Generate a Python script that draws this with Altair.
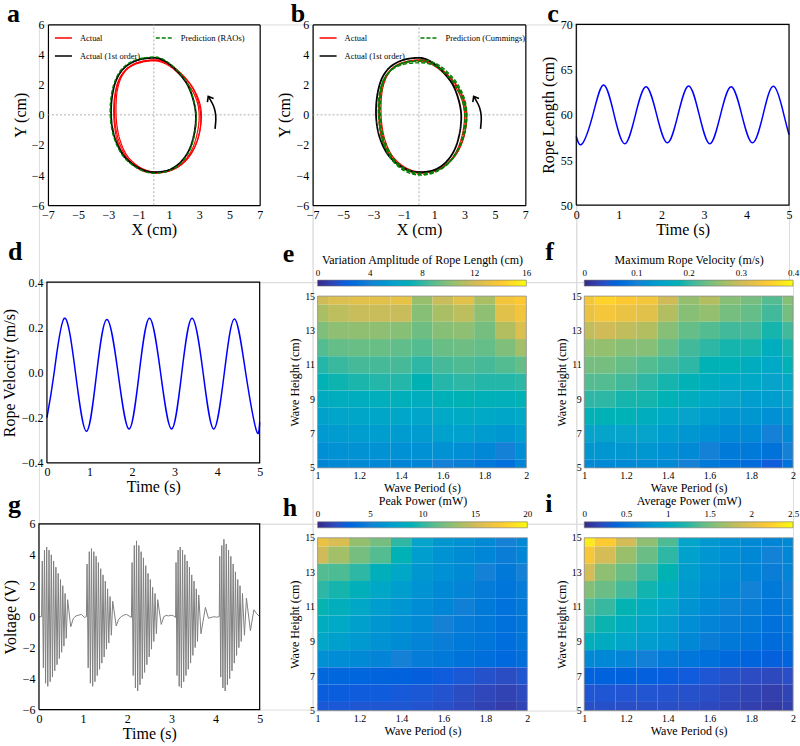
import altair as alt
import pandas as pd

FONT = "Liberation Serif"
PARULA = ["#352a87", "#0f5cdd", "#1481d6", "#06a4ca", "#2eb7a4",
          "#87bf77", "#d1bb59", "#fec832", "#f9fb0e"]

# ---------------- panels a / b : orbit loops (cm) ----------------
black_x = [0.0, -0.7, -1.35, -1.95, -2.4, -2.68, -2.82, -2.78, -2.52, -2.0, -1.25, -0.45,
           0.3, 1.1, 1.8, 2.35, 2.68, 2.78, 2.62, 2.25, 1.7, 1.05, 0.45]
black_y = [3.78, 3.72, 3.52, 3.12, 2.5, 1.65, 0.55, -0.6, -1.7, -2.7, -3.38, -3.75,
           -3.8, -3.62, -3.12, -2.3, -1.2, -0.05, 0.95, 1.95, 2.72, 3.35, 3.7]

red1_x = [0.0, -0.7, -1.3, -1.85, -2.25, -2.5, -2.6, -2.55, -2.3, -1.82, -1.1, -0.3,
          0.5, 1.35, 2.05, 2.62, 3.0, 3.15, 3.0, 2.55, 1.9, 1.2, 0.55]
red1_y = [3.62, 3.56, 3.38, 3.0, 2.4, 1.55, 0.5, -0.65, -1.78, -2.78, -3.45, -3.8,
          -3.82, -3.6, -3.1, -2.3, -1.25, -0.1, 0.9, 1.85, 2.62, 3.22, 3.55]
red2_x = [-0.05, -0.75, -1.35, -1.9, -2.3, -2.55, -2.65, -2.6, -2.38, -1.9, -1.18, -0.38,
          0.42, 1.25, 1.95, 2.5, 2.86, 3.0, 2.86, 2.42, 1.8, 1.12, 0.5]
red2_y = [3.58, 3.5, 3.3, 2.92, 2.35, 1.5, 0.45, -0.7, -1.82, -2.8, -3.48, -3.82,
          -3.85, -3.64, -3.15, -2.35, -1.28, -0.12, 0.88, 1.82, 2.58, 3.18, 3.5]
red3_x = [0.05, -0.62, -1.22, -1.78, -2.18, -2.42, -2.5, -2.45, -2.22, -1.76, -1.05, -0.25,
          0.55, 1.4, 2.1, 2.66, 3.02, 3.1, 2.92, 2.5, 1.88, 1.2, 0.6]
red3_y = [3.65, 3.58, 3.4, 3.02, 2.42, 1.58, 0.52, -0.6, -1.72, -2.72, -3.4, -3.75,
          -3.78, -3.55, -3.05, -2.25, -1.2, -0.05, 0.95, 1.9, 2.66, 3.26, 3.58]

rao_x = [0.0, -0.72, -1.4, -2.0, -2.45, -2.74, -2.88, -2.83, -2.56, -2.02, -1.25, -0.42,
         0.35, 1.15, 1.86, 2.4, 2.72, 2.8, 2.64, 2.28, 1.72, 1.06, 0.45]
rao_y = [3.84, 3.77, 3.57, 3.16, 2.53, 1.66, 0.55, -0.62, -1.74, -2.76, -3.44, -3.82,
         -3.86, -3.66, -3.14, -2.3, -1.2, -0.05, 0.97, 1.98, 2.76, 3.4, 3.76]

cum1_x = [0.0, -0.7, -1.3, -1.85, -2.3, -2.55, -2.62, -2.55, -2.3, -1.8, -1.1, -0.3,
          0.5, 1.3, 2.0, 2.55, 2.95, 3.1, 2.95, 2.55, 1.95, 1.25, 0.55]
cum1_y = [3.55, 3.5, 3.35, 2.98, 2.38, 1.52, 0.48, -0.68, -1.82, -2.85, -3.55, -3.9,
          -3.92, -3.68, -3.15, -2.35, -1.3, -0.15, 0.9, 1.88, 2.65, 3.22, 3.5]
cum2_x = [-0.1, -0.8, -1.4, -1.95, -2.35, -2.6, -2.68, -2.6, -2.35, -1.85, -1.15, -0.35,
          0.45, 1.25, 1.95, 2.5, 2.88, 3.02, 2.88, 2.48, 1.88, 1.2, 0.5]
cum2_y = [3.45, 3.4, 3.22, 2.85, 2.28, 1.45, 0.42, -0.72, -1.85, -2.9, -3.6, -3.95,
          -3.98, -3.72, -3.2, -2.4, -1.35, -0.2, 0.85, 1.82, 2.58, 3.15, 3.42]
cum3_x = [0.05, -0.6, -1.2, -1.75, -2.2, -2.45, -2.55, -2.5, -2.25, -1.75, -1.05, -0.25,
          0.55, 1.35, 2.05, 2.6, 3.0, 3.15, 3.02, 2.6, 2.0, 1.3, 0.6]
cum3_y = [3.62, 3.56, 3.4, 3.05, 2.45, 1.6, 0.55, -0.62, -1.75, -2.78, -3.48, -3.82,
          -3.85, -3.62, -3.08, -2.28, -1.22, -0.08, 0.98, 1.95, 2.72, 3.3, 3.6]

arrow_x = [4.05, 4.1, 4.06, 3.92, 3.6]
arrow_y = [-0.93, -0.3, 0.2, 0.65, 1.22]

orbit_xticks = [-7, -5, -3, -1, 1, 3, 5, 7]
orbit_yticks = [-6, -4, -2, 0, 2, 4, 6]

# ---------------- panel c : rope length ----------------
len_t = [0.0, 0.14, 0.39, 0.64, 0.89, 1.14, 1.39, 1.64, 1.89, 2.14, 2.39, 2.64, 2.89,
         3.14, 3.39, 3.64, 3.89, 4.14, 4.39, 4.64, 4.88, 5.0]
len_v = [57.6, 56.8, 60.0, 63.3, 60.0, 56.8, 60.0, 63.1, 60.0, 56.9, 60.0, 63.2, 60.0,
         56.8, 60.0, 63.1, 60.0, 56.9, 60.0, 63.15, 60.0, 57.8]
time_ticks = [0, 1, 2, 3, 4, 5]
length_ticks = [50, 55, 60, 65, 70]

# ---------------- panel d : rope velocity ----------------
vel_t = [0.0, 0.17, 0.41, 0.67, 0.93, 1.17, 1.41, 1.67, 1.93, 2.17, 2.41, 2.67, 2.93,
         3.17, 3.41, 3.67, 3.92, 4.17, 4.41, 4.67, 4.92, 5.0]
vel_v = [-0.2, 0.0, 0.24, 0.0, -0.26, 0.0, 0.235, 0.0, -0.25, 0.0, 0.24, 0.0, -0.25,
         0.0, 0.24, 0.0, -0.25, 0.0, 0.237, 0.0, -0.255, -0.22]
velocity_ticks = [-0.4, -0.2, 0.0, 0.2, 0.4]

# ---------------- panel g : voltage ----------------
volt_t = [0.0, 0.06,
          0.075, 0.1, 0.125, 0.15, 0.175, 0.2, 0.228, 0.254, 0.28, 0.306, 0.332, 0.358,
          0.384, 0.41, 0.436, 0.462, 0.488, 0.514, 0.54, 0.566, 0.592, 0.618, 0.65, 0.72,
          0.78, 0.84, 0.9, 0.96, 1.03, 1.075,
          1.09, 1.115, 1.14, 1.165, 1.19, 1.217, 1.243, 1.269, 1.295, 1.321, 1.347, 1.373,
          1.399, 1.425, 1.451, 1.477, 1.503, 1.529, 1.555, 1.582, 1.61, 1.64, 1.67, 1.75,
          1.8, 1.86, 1.92, 1.98, 2.04, 2.095,
          2.11, 2.135, 2.16, 2.185, 2.21, 2.237, 2.263, 2.289, 2.315, 2.341, 2.367, 2.393,
          2.419, 2.445, 2.471, 2.497, 2.523, 2.549, 2.575, 2.602, 2.63, 2.66, 2.69, 2.77,
          2.83, 2.88, 2.94, 2.99, 3.05, 3.095,
          3.105, 3.128, 3.152, 3.177, 3.2, 3.227, 3.253, 3.279, 3.305, 3.331, 3.357, 3.383,
          3.409, 3.435, 3.461, 3.487, 3.513, 3.539, 3.565, 3.591, 3.62, 3.67, 3.77,
          3.84, 3.9, 3.96, 4.02, 4.085,
          4.095, 4.118, 4.142, 4.167, 4.19, 4.217, 4.243, 4.269, 4.295, 4.321, 4.347, 4.373,
          4.399, 4.425, 4.451, 4.477, 4.503, 4.529, 4.555, 4.582, 4.61, 4.655, 4.7, 4.79,
          4.87, 4.93, 5.0]
volt_v = [0.0, 0.0,
          3.6, -3.3, 4.3, -4.3, 4.5, -4.5, 4.3, -4.2, 4.0, -3.9, 3.6, -3.5,
          3.2, -3.1, 2.8, -2.7, 2.4, -2.3, 2.0, -1.9, 1.5, -1.4, 1.1, -0.65,
          -0.1, 0.05, 0.1, 0.15, -0.05, 0.0,
          3.4, -3.3, 4.2, -4.3, 4.4, -4.5, 4.2, -4.2, 3.9, -3.8, 3.5, -3.4,
          3.1, -3.0, 2.7, -2.6, 2.3, -2.1, 1.8, -1.7, 1.3, -1.2, 1.0, -0.6,
          -0.2, 0.0, 0.1, 0.15, 0.05, -0.05,
          3.5, -3.8, 4.6, -4.6, 4.9, -4.8, 4.6, -4.4, 4.2, -4.0, 3.8, -3.6,
          3.3, -3.1, 2.8, -2.6, 2.4, -2.1, 1.9, -1.6, 1.5, -1.1, 1.1, -0.5,
          0.0, 0.08, 0.05, 0.1, 0.05, -0.05,
          3.5, -3.8, 4.3, -4.5, 4.5, -4.6, 4.3, -4.2, 4.0, -3.8, 3.6, -3.4,
          3.2, -3.0, 2.7, -2.5, 2.3, -2.0, 1.8, -1.6, 1.4, -1.1, 0.6,
          -0.1, -0.05, 0.0, -0.03, 0.0,
          3.9, -3.9, 4.6, -4.6, 5.0, -4.8, 4.7, -4.4, 4.3, -4.0, 3.9, -3.5,
          3.4, -3.0, 2.9, -2.5, 2.4, -2.0, 2.0, -1.6, 1.5, -1.2, 1.2, -0.9,
          0.45, 0.2, 0.0]
voltage_ticks = [-6, -4, -2, 0, 2, 4, 6]

# ---------------- heat maps e, f, h, i ----------------
period = [1.0, 1.1, 1.2, 1.3, 1.4, 1.5, 1.6, 1.7, 1.8, 1.9, 2.0]
wave_height = [15, 14, 13, 12, 11, 10, 9, 8, 7, 6, 5]
period_ticks = [1, 1.2, 1.4, 1.6, 1.8, 2]
height_ticks = [5, 7, 9, 11, 13, 15]

amp_cm = [
    [12.0, 12.5, 12.8, 12.8, 13.0, 10.5, 11.8, 12.8, 11.0, 13.5, 14.0],
    [11.0, 11.5, 11.8, 11.8, 11.8, 10.0, 11.0, 11.5, 10.2, 12.8, 13.5],
    [9.8, 10.2, 10.3, 10.2, 10.0, 9.4, 10.0, 10.2, 9.6, 11.2, 12.5],
    [8.8, 9.2, 9.3, 9.3, 9.1, 8.8, 9.3, 9.4, 9.2, 9.8, 10.8],
    [7.8, 8.2, 8.5, 8.5, 8.5, 8.0, 8.5, 8.7, 8.5, 8.8, 9.2],
    [7.2, 7.5, 7.7, 7.8, 7.8, 7.3, 7.8, 8.0, 7.8, 7.8, 8.0],
    [6.6, 6.8, 6.8, 6.9, 7.0, 6.8, 7.1, 7.3, 7.1, 7.0, 7.2],
    [5.9, 6.1, 6.2, 6.2, 6.2, 6.1, 6.4, 6.5, 6.4, 6.2, 6.4],
    [5.3, 5.5, 5.6, 5.6, 5.5, 5.5, 5.8, 5.8, 5.5, 5.2, 5.6],
    [4.7, 4.9, 4.9, 4.9, 4.8, 4.8, 4.9, 4.7, 4.3, 4.0, 4.7],
    [4.2, 4.4, 4.4, 4.3, 4.2, 4.2, 4.0, 3.8, 3.4, 3.0, 4.2],
]
vmax_ms = [
    [0.34, 0.36, 0.35, 0.34, 0.30, 0.26, 0.28, 0.25, 0.24, 0.22, 0.25],
    [0.33, 0.34, 0.33, 0.32, 0.28, 0.25, 0.26, 0.24, 0.23, 0.21, 0.24],
    [0.29, 0.30, 0.29, 0.28, 0.25, 0.23, 0.22, 0.21, 0.21, 0.19, 0.21],
    [0.26, 0.26, 0.25, 0.25, 0.23, 0.21, 0.20, 0.19, 0.19, 0.17, 0.19],
    [0.24, 0.24, 0.23, 0.22, 0.21, 0.20, 0.18, 0.18, 0.17, 0.16, 0.18],
    [0.22, 0.22, 0.21, 0.20, 0.19, 0.18, 0.17, 0.16, 0.16, 0.15, 0.16],
    [0.20, 0.20, 0.19, 0.19, 0.18, 0.17, 0.16, 0.15, 0.14, 0.14, 0.15],
    [0.18, 0.18, 0.18, 0.17, 0.16, 0.15, 0.14, 0.13, 0.13, 0.12, 0.13],
    [0.15, 0.15, 0.15, 0.15, 0.14, 0.13, 0.12, 0.11, 0.11, 0.10, 0.11],
    [0.13, 0.13, 0.13, 0.13, 0.12, 0.11, 0.10, 0.09, 0.09, 0.08, 0.10],
    [0.11, 0.11, 0.11, 0.11, 0.11, 0.10, 0.09, 0.08, 0.07, 0.05, 0.08],
]
peak_mw = [
    [16.5, 15.5, 13.0, 12.0, 10.0, 7.5, 6.5, 6.0, 5.5, 5.0, 5.5],
    [15.0, 13.5, 12.0, 11.0, 9.0, 7.0, 6.2, 5.7, 5.3, 4.8, 5.3],
    [11.0, 10.8, 10.0, 8.8, 7.8, 6.5, 6.0, 5.5, 5.0, 4.4, 5.0],
    [10.0, 9.5, 8.8, 7.8, 7.0, 6.2, 5.6, 5.2, 4.7, 4.1, 4.7],
    [9.3, 8.6, 7.8, 7.0, 6.4, 5.8, 5.3, 4.9, 4.5, 3.9, 4.5],
    [8.5, 8.0, 7.2, 6.5, 6.0, 5.5, 5.0, 4.7, 4.3, 3.8, 4.3],
    [7.8, 7.2, 6.6, 6.1, 5.7, 5.2, 4.8, 4.5, 4.1, 3.6, 4.1],
    [6.0, 5.8, 5.5, 5.2, 5.0, 4.7, 4.4, 4.0, 3.7, 3.3, 3.7],
    [3.2, 3.2, 3.1, 3.0, 2.9, 2.7, 2.5, 2.3, 2.0, 1.8, 2.2],
    [2.6, 2.6, 2.5, 2.5, 2.4, 2.3, 2.1, 1.8, 1.5, 1.3, 1.7],
    [2.3, 2.3, 2.2, 2.2, 2.2, 2.1, 1.9, 1.6, 1.3, 1.0, 1.4],
]
avg_mw = [
    [2.4, 2.2, 1.9, 1.6, 1.35, 0.95, 0.82, 0.76, 0.7, 0.66, 0.7],
    [2.15, 1.9, 1.65, 1.45, 1.25, 0.92, 0.8, 0.74, 0.68, 0.63, 0.68],
    [1.9, 1.6, 1.45, 1.3, 1.15, 0.88, 0.77, 0.71, 0.66, 0.6, 0.65],
    [1.55, 1.45, 1.32, 1.18, 1.05, 0.83, 0.74, 0.68, 0.63, 0.56, 0.61],
    [1.35, 1.28, 1.16, 1.05, 0.95, 0.78, 0.7, 0.64, 0.59, 0.52, 0.57],
    [1.25, 1.17, 1.06, 0.96, 0.87, 0.73, 0.65, 0.59, 0.55, 0.48, 0.53],
    [1.1, 1.03, 0.95, 0.87, 0.8, 0.68, 0.6, 0.55, 0.5, 0.44, 0.48],
    [0.7, 0.68, 0.65, 0.62, 0.58, 0.52, 0.47, 0.42, 0.38, 0.34, 0.38],
    [0.36, 0.36, 0.35, 0.34, 0.33, 0.31, 0.28, 0.25, 0.22, 0.2, 0.23],
    [0.28, 0.28, 0.27, 0.27, 0.26, 0.25, 0.23, 0.2, 0.17, 0.14, 0.17],
    [0.24, 0.24, 0.23, 0.23, 0.23, 0.22, 0.2, 0.17, 0.14, 0.11, 0.14],
]

# ---------------- layout (pixel boxes of each plot area) ----------------
COLX = [38, 312, 576]
ROWY = [24, 282, 524]
BOX = {  # left, right, top, bottom
    "a": (47, 259, 24, 205), "b": (312, 525, 24, 205), "c": (576, 789, 24, 205),
    "d": (46, 259, 282, 463), "e": (317, 526, 296, 468), "f": (584, 793, 296, 468),
    "g": (38, 259, 524, 710), "h": (317, 527, 538, 711), "i": (584, 793, 538, 711),
}
CELL = {"a": (0, 0), "b": (0, 1), "c": (0, 2), "d": (1, 0), "e": (1, 1), "f": (1, 2),
        "g": (2, 0), "h": (2, 1), "i": (2, 2)}
LABEL = {"a": (-32, 30), "b": (-22, 30), "c": (-29, 30), "d": (-31, 10), "e": (-30, 35),
         "f": (-31, 33), "g": (-31, 21), "h": (-30, 47), "i": (-31, 43)}


def geom(key):
    r, c = CELL[key]
    L, R, T, B = BOX[key]
    X0, Y0 = COLX[c], ROWY[r]
    W = COLX[c + 1] - X0 if c < 2 else R - X0
    H = ROWY[r + 1] - Y0 if r < 2 else B - Y0
    return dict(W=W, H=H, xr=[L - X0, R - X0], yr=[B - Y0, T - Y0],
                xoff=L - X0, yoff=(B - Y0) - H, top=T - Y0, length=R - L)


def panel_title(key):
    dx, dy = LABEL[key]
    return alt.TitleParams(text=key, anchor="start", frame="group", orient="top", offset=0,
                           dx=dx, dy=dy, font=FONT, fontSize=26, fontWeight="bold",
                           color="black", baseline="alphabetic", align="left")


def axis_common(lfs, tfs, lpad, dom=False):
    return dict(ticks=False, domain=dom, domainColor="black", domainWidth=1.2, grid=False,
                labelFont=FONT, labelFontSize=lfs, labelColor="black", labelPadding=lpad,
                titleFont=FONT, titleFontSize=tfs, titleFontWeight="normal",
                titleColor="black", labelFlush=False)


def encodings(g, xdom, ydom, xt, yt, xfmt, yfmt, xtitle, ytitle, ytp, xtp=1,
              lfs=12, tfs=16, lpad=4, dom=False):
    common = axis_common(lfs, tfs, lpad, dom)
    X = alt.X("x:Q", scale=alt.Scale(domain=xdom, range=g["xr"], nice=False, zero=False),
              axis=alt.Axis(title=xtitle, values=xt, format=xfmt, offset=g["yoff"],
                            titlePadding=xtp, **common))
    Y = alt.Y("y:Q", scale=alt.Scale(domain=ydom, range=g["yr"], nice=False, zero=False),
              axis=alt.Axis(title=ytitle, values=yt, format=yfmt, offset=-g["xoff"],
                            titlePadding=ytp, **common))
    return X, Y


def frame_layer(X, Y, xt, yt, color, width):
    # closed outline through the four corners of the axis domain
    x0, x1, y0, y1 = xt[0], xt[-1], yt[0], yt[-1]
    df = pd.DataFrame({"x": [x0, x1, x1, x0, x0], "y": [y0, y0, y1, y1, y0],
                       "idx": [0, 1, 2, 3, 4]})
    return alt.Chart(df).mark_line(color=color, strokeWidth=width, interpolate="linear").encode(
        X, Y, order=alt.Order("idx:Q"))


def loops_df(loops):
    rows = []
    for name, series, xs, ys in loops:
        for k, (x, y) in enumerate(zip(xs, ys)):
            rows.append({"x": x, "y": y, "loop": name, "series": series, "idx": k})
    return pd.DataFrame(rows)


def orbit_panel(key, green_name, green_loops):
    g = geom(key)
    xdom = [orbit_xticks[0], orbit_xticks[-1]]
    ydom = [orbit_yticks[0], orbit_yticks[-1]]
    X, Y = encodings(g, xdom, ydom, orbit_xticks, orbit_yticks, "d", "d", "X (cm)", "Y (cm)",
                     ytp=3, dom=True)
    dom = ["Actual", "Actual (1st order)", green_name]
    leg = alt.Legend(orient="none", legendX=g["xoff"] + 6, legendY=g["top"] + 4, columns=2,
                     title=None, labelFont=FONT, labelFontSize=8.5, labelColor="black",
                     symbolSize=290, symbolStrokeWidth=1.5, labelOffset=7,
                     columnPadding=11, rowPadding=4, padding=0)
    color = alt.Color("series:N", scale=alt.Scale(domain=dom, range=["#ff0000", "#000000", "#008000"]),
                      legend=leg)
    dash = alt.StrokeDash("series:N", scale=alt.Scale(domain=dom, range=[[1, 0], [1, 0], [4, 2]]),
                          legend=leg)
    cross = pd.DataFrame({"x": [0, orbit_xticks[0]], "x2": [0, orbit_xticks[-1]],
                          "y": [orbit_yticks[0], 0], "y2": [orbit_yticks[-1], 0]})
    rules = alt.Chart(cross).mark_rule(color="#9a9a9a", strokeWidth=0.8, strokeDash=[2, 2]).encode(
        X, x2="x2:Q", y=Y, y2="y2:Q")
    red = loops_df([("r1", "Actual", red1_x, red1_y), ("r2", "Actual", red2_x, red2_y),
                    ("r3", "Actual", red3_x, red3_y)])
    blk = loops_df([("k", "Actual (1st order)", black_x, black_y)])
    grn = loops_df([(f"g{i}", green_name, gx, gy) for i, (gx, gy) in enumerate(green_loops)])

    def loop_layer(df, w):
        return alt.Chart(df).mark_line(interpolate="cardinal-closed", strokeWidth=w).encode(
            X, Y, color=color, strokeDash=dash, detail="loop:N", order=alt.Order("idx:Q"))

    adf = pd.DataFrame({"x": arrow_x, "y": arrow_y, "idx": list(range(len(arrow_x)))})
    arrow = alt.Chart(adf).mark_line(interpolate="natural", color="black", strokeWidth=1.6).encode(
        X, Y, order=alt.Order("idx:Q"))
    head = alt.Chart(adf.tail(1)).mark_point(shape="M-0.8,1L0,0L0.8,1", filled=False, color="black",
                                             strokeWidth=1.6, size=80, angle=330, opacity=1).encode(X, Y)
    main = alt.layer(rules, loop_layer(red, 1.2), loop_layer(blk, 1.8),
                     loop_layer(grn, 1.4), arrow, head)
    # top and right edges of the box, drawn as axis domain lines
    edge_common = dict(labels=False, ticks=False, grid=False, domain=True, domainColor="black",
                       domainWidth=1.2, title="")
    edf = pd.DataFrame({"x": xdom, "y": ydom})
    EX = alt.X("x:Q", scale=alt.Scale(domain=xdom, range=g["xr"], nice=False, zero=False),
               axis=alt.Axis(orient="top", offset=-g["top"], **edge_common))
    EY = alt.Y("y:Q", scale=alt.Scale(domain=ydom, range=g["yr"], nice=False, zero=False),
               axis=alt.Axis(orient="right", offset=g["xr"][1] - g["W"], **edge_common))
    edge = alt.Chart(edf).mark_point(opacity=0).encode(EX, EY)
    return alt.layer(main, edge).resolve_scale(x="independent", y="independent").properties(
        width=g["W"], height=g["H"], title=panel_title(key))


def series_panel(key, t, v, xt, yt, yfmt, ytitle, ytp, color, width, interp):
    g = geom(key)
    X, Y = encodings(g, [xt[0], xt[-1]], [yt[0], yt[-1]], xt, yt, "d", yfmt,
                     "Time (s)", ytitle, ytp=ytp)
    fr = frame_layer(X, Y, xt, yt, "black", 1.2)
    df = pd.DataFrame({"x": t, "y": v})
    line = alt.Chart(df).mark_line(color=color, strokeWidth=width, interpolate=interp).encode(X, Y)
    return alt.layer(line, fr).properties(width=g["W"], height=g["H"], title=panel_title(key))


def heat_panel(key, grid, ctitle, vmax, cvals, field):
    g = geom(key)
    hp = (period[1] - period[0]) / 2
    hh = (wave_height[0] - wave_height[1]) / 2
    rows = []
    for i, h in enumerate(wave_height):
        for j, p in enumerate(period):
            rows.append({"x": max(period[0], p - hp), "x2": min(period[-1], p + hp),
                         "y": max(wave_height[-1], h - hh), "y2": min(wave_height[0], h + hh),
                         field: grid[i][j]})
    df = pd.DataFrame(rows)
    X, Y = encodings(g, [period_ticks[0], period_ticks[-1]], [height_ticks[0], height_ticks[-1]],
                     period_ticks, height_ticks, "~g", "d", "Wave Period (s)", "Wave Height (cm)",
                     ytp=3, xtp=2, lfs=10, tfs=12, lpad=3)
    cscale = alt.Scale(domain=[vmax * k / 8 for k in range(9)], range=PARULA)
    bar_top = g["top"] - 16
    leg = alt.Legend(type="gradient", orient="none", legendX=g["xoff"], legendY=bar_top,
                     direction="horizontal", gradientLength=g["length"], gradientThickness=6,
                     title=None, labelExpr="''", labelOpacity=0,
                     gradientStrokeColor="#777777", gradientStrokeWidth=0.6, padding=0)
    cells = alt.Chart(df).mark_rect().encode(
        X, x2="x2:Q", y=Y, y2="y2:Q",
        color=alt.Color(f"{field}:Q", scale=cscale, legend=leg))
    fr = frame_layer(X, Y, period_ticks, height_ticks, "#8c8c8c", 0.8)
    # colour-bar scale drawn as a top axis just above the gradient
    cdf = pd.DataFrame({"c": cvals})
    CX = alt.X("c:Q", scale=alt.Scale(domain=[0, vmax], range=g["xr"], nice=False, zero=False),
               axis=alt.Axis(orient="top", offset=-bar_top, title=ctitle, values=cvals, format="~g",
                             titlePadding=2, **axis_common(9, 12, 3)))
    cbar = alt.Chart(cdf).mark_point(opacity=0).encode(x=CX)
    return alt.layer(alt.layer(cells, fr), cbar).resolve_scale(x="independent").properties(
        width=g["W"], height=g["H"], title=panel_title(key))


pa = orbit_panel("a", "Prediction (RAOs)", [(rao_x, rao_y)])
pb = orbit_panel("b", "Prediction (Cummings)", [(cum1_x, cum1_y), (cum2_x, cum2_y), (cum3_x, cum3_y)])
pc = series_panel("c", len_t, len_v, time_ticks, length_ticks, "d", "Rope Length (cm)", 4,
                  "#0000ff", 1.5, "natural")
pd_ = series_panel("d", vel_t, vel_v, time_ticks, velocity_ticks, ".1f", "Rope Velocity (m/s)", 4,
                   "#0000ff", 1.5, "natural")
pe = heat_panel("e", amp_cm, "Variation Amplitude of Rope Length (cm)", 16, [0, 4, 8, 12, 16], "amp")
pf = heat_panel("f", vmax_ms, "Maximum Rope Velocity (m/s)", 0.4, [0, 0.1, 0.2, 0.3, 0.4], "vmax")
pg = series_panel("g", volt_t, volt_v, time_ticks, voltage_ticks, "d", "Voltage (V)", 4,
                  "#808080", 1.0, "linear")
ph = heat_panel("h", peak_mw, "Peak Power (mW)", 20, [0, 5, 10, 15, 20], "peak")
pi = heat_panel("i", avg_mw, "Average Power (mW)", 2.5, [0, 0.5, 1, 1.5, 2, 2.5], "avg")

chart = alt.concat(pa, pb, pc, pd_, pe, pf, pg, ph, pi, columns=3, spacing=0,
                   bounds="flush", align="each").resolve_scale(
    color="independent", strokeDash="independent"
).configure_view(stroke=None).configure(font=FONT).properties(
    padding={"left": 0, "top": 0, "right": 0, "bottom": 0})

chart.save("out.html", embed_options={"renderer": "svg", "actions": False})
